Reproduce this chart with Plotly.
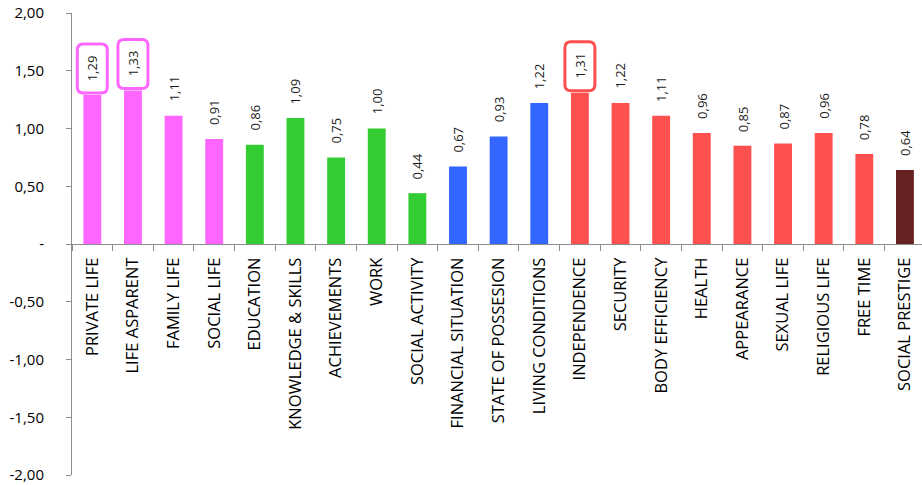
import plotly.graph_objects as go

# Scores per life domain
categories = [
    "PRIVATE LIFE", "LIFE ASPARENT", "FAMILY LIFE", "SOCIAL LIFE",
    "EDUCATION", "KNOWLEDGE & SKILLS", "ACHIEVEMENTS", "WORK", "SOCIAL ACTIVITY",
    "FINANCIAL SITUATION", "STATE OF POSSESION", "LIVING CONDITIONS",
    "INDEPENDENCE", "SECURITY", "BODY EFFICIENCY", "HEALTH", "APPEARANCE",
    "SEXUAL LIFE", "RELIGIOUS LIFE", "FREE TIME", "SOCIAL PRESTIGE",
]
values = [1.29, 1.33, 1.11, 0.91, 0.86, 1.09, 0.75, 1.00, 0.44, 0.67, 0.93,
          1.22, 1.31, 1.22, 1.11, 0.96, 0.85, 0.87, 0.96, 0.78, 0.64]
groups = ["private"] * 4 + ["growth"] * 5 + ["material"] * 3 + ["wellbeing"] * 8 + ["prestige"]
highlighted = ["PRIVATE LIFE", "LIFE ASPARENT", "INDEPENDENCE"]

y_tickvals = [-2.0, -1.5, -1.0, -0.5, 0.0, 0.5, 1.0, 1.5, 2.0]
y_ticktext = ["-2,00", "-1,50", "-1,00", "-0,50", "-", "0,50", "1,00", "1,50", "2,00"]

group_colors = {
    "private": "#FF66FF",
    "growth": "#33CC33",
    "material": "#3366FF",
    "wellbeing": "#FF5050",
    "prestige": "#662222",
}
bar_colors = [group_colors[g] for g in groups]

FONT = "Open Sans"

fig = go.Figure(
    go.Bar(
        x=categories,
        y=values,
        marker=dict(color=bar_colors, line=dict(width=0)),
        width=0.44,
        hoverinfo="x+y",
    )
)

# Value labels, rotated, sitting above each bar
annotations = []
for cat, v in zip(categories, values):
    annotations.append(dict(
        x=cat, y=v, xref="x", yref="y",
        text=f"{v:.2f}".replace(".", ","),
        textangle=-90, showarrow=False,
        xanchor="center", yanchor="middle", yshift=27,
        font=dict(family=FONT, size=13, color="#1A1A1A"),
    ))

# Rounded frames around the highlighted value labels
def rounded_rect(x0, y0, x1, y1, r):
    return (f"M {x0 + r},{y0} L {x1 - r},{y0} Q {x1},{y0} {x1},{y0 + r} "
            f"L {x1},{y1 - r} Q {x1},{y1} {x1 - r},{y1} L {x0 + r},{y1} "
            f"Q {x0},{y1} {x0},{y1 - r} L {x0},{y0 + r} Q {x0},{y0} {x0 + r},{y0} Z")

shapes = []
for cat, v, col in zip(categories, values, bar_colors):
    if cat in highlighted:
        shapes.append(dict(
            type="path", layer="above",
            xref="x", yref="y", xsizemode="pixel", ysizemode="pixel",
            xanchor=cat, yanchor=v,
            path=rounded_rect(-15, 2, 15, 51, 6),
            line=dict(color=col, width=3), fillcolor="white",
        ))

fig.update_layout(
    width=922, height=485,
    margin=dict(l=72, r=0, t=13, b=10),
    paper_bgcolor="white", plot_bgcolor="white",
    showlegend=False,
    annotations=annotations,
    shapes=shapes,
    font=dict(family=FONT, color="#000000"),
    xaxis=dict(
        type="category",
        range=[-0.5, 20.42],
        anchor="free", position=0.5,
        showline=True, linecolor="#8C8C8C", linewidth=1,
        ticks="outside", tickson="boundaries", ticklen=6, tickcolor="#8C8C8C",
        tickangle=-90, ticklabelstandoff=6,
        tickfont=dict(family=FONT, size=16.5, color="#000000"),
        showgrid=False, zeroline=False, fixedrange=True,
    ),
    yaxis=dict(
        range=[-2, 2],
        tickvals=y_tickvals, ticktext=y_ticktext,
        showline=True, linecolor="#8C8C8C", linewidth=1,
        ticks="outside", ticklen=5, tickcolor="#8C8C8C",
        ticklabelstandoff=19,
        tickfont=dict(family=FONT, size=15, color="#000000"),
        showgrid=False, zeroline=False, fixedrange=True,
    ),
)

fig.write_html("out.html")
